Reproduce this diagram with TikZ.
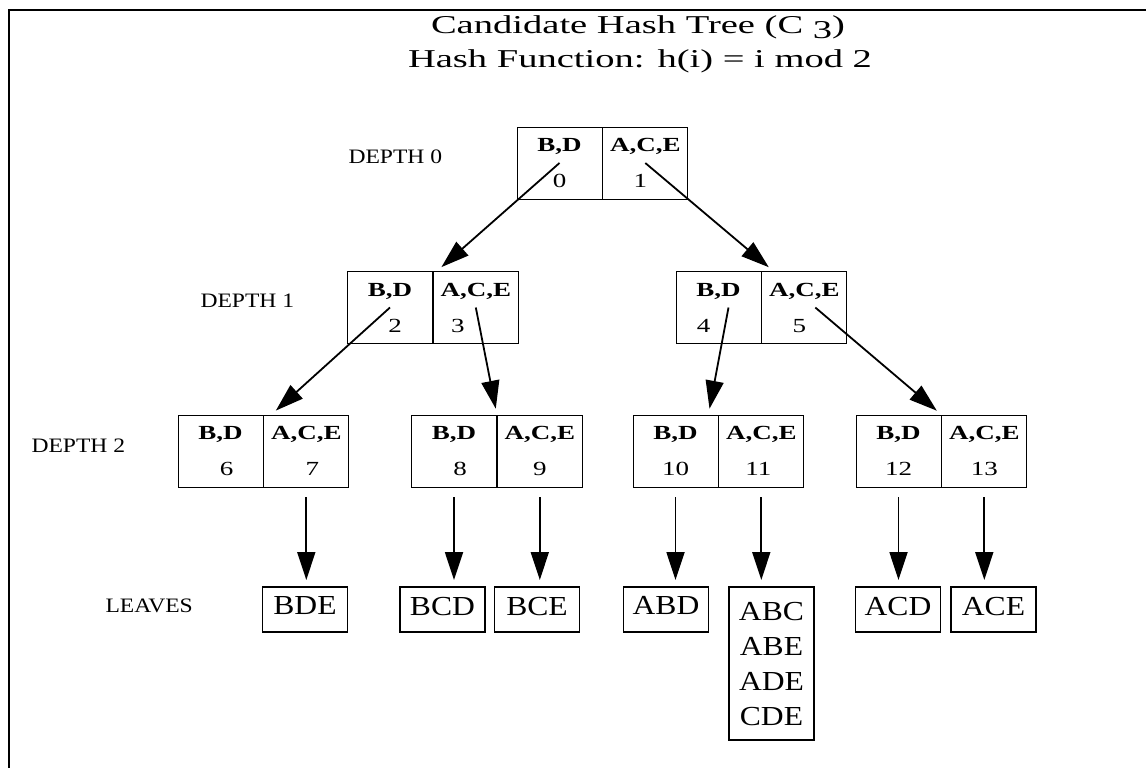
\documentclass[tikz,border=0pt]{standalone}
\usepackage{fontspec}
\setmainfont{Liberation Serif}
\newfontfamily\titlefont{Liberation Serif}[FakeStretch=1.5]
\newfontfamily\cellfont{Liberation Serif}[FakeStretch=1.35]
\newfontfamily\leaffont{Liberation Serif}[FakeStretch=1.15]
\usetikzlibrary{positioning,arrows.meta,calc}

\begin{document}
\begin{tikzpicture}[x=1pt, y=-1pt, line width=1pt,
  cell/.style={draw, line width=0.8pt, minimum width=85pt, minimum height=72pt,
    inner sep=0pt, align=center, font=\cellfont\fontsize{20}{36}\selectfont},
  leaf/.style={draw, line width=1.8pt, minimum width=85pt, minimum height=45pt,
    inner sep=0pt, anchor=north, align=center, text depth=7pt,
    font=\leaffont\fontsize{27.5}{35}\selectfont},
  lbl/.style={anchor=base west, inner sep=0pt,
    font=\leaffont\fontsize{20.5}{24}\selectfont},
  arr/.style={line width=1.8pt, shorten >=6pt, -{Triangle[length=28pt,width=18pt]}}]

\useasboundingbox (0,0) rectangle (1146,768);
\draw[line width=2pt] (9,768) -- (9,10) -- (1146,10);

% title
\node[anchor=base, inner sep=0pt, font=\titlefont\fontsize{25.7}{32}\selectfont]
  (title) at (638,34) {Candidate Hash Tree (C \raisebox{-5pt}{3})};
\node[anchor=base, inner sep=0pt, font=\titlefont\fontsize{25.7}{32}\selectfont]
  (hashfn) at (640,67) {Hash Function: h(i) = i mod 2};

% depth 0
\node[lbl] (d0) at (348,163) {DEPTH 0};
\node[cell] (b0) at (559.5,163) {\textbf{B,D}\\0};
\node[cell, right=0pt of b0] (b1) {\textbf{A,C,E}\\1\hspace*{10pt}};

% depth 1
\node[lbl] (d1) at (200,307) {DEPTH 1};
\node[cell] (b2) at (390,307.5) {\textbf{B,D}\\\hspace*{10pt}2};
\node[cell, right=0pt of b2] (b3) {\textbf{A,C,E}\\3\hspace*{36pt}};
\node[cell] (b4) at (718.5,307.5) {\textbf{B,D}\\4\hspace*{30pt}};
\node[cell, right=0pt of b4] (b5) {\textbf{A,C,E}\\5\hspace*{10pt}};

% depth 2
\node[lbl] (d2) at (31,452) {DEPTH 2};
\node[cell] (b6) at (220.5,451) {\textbf{B,D}\\\hspace*{12pt}6};
\node[cell, right=0pt of b6] (b7) {\textbf{A,C,E}\\\hspace*{12pt}7};
\node[cell] (b8) at (454,451) {\textbf{B,D}\\\hspace*{12pt}8};
\node[cell, right=0pt of b8] (b9) {\textbf{A,C,E}\\9};
\node[cell] (b10) at (675.5,451) {\textbf{B,D}\\10};
\node[cell, right=0pt of b10] (b11) {\textbf{A,C,E}\\11\hspace*{6pt}};
\node[cell] (b12) at (898.5,451) {\textbf{B,D}\\12};
\node[cell, right=0pt of b12] (b13) {\textbf{A,C,E}\\13};

% leaves
\node[lbl] (lv) at (105,612) {LEAVES};
\node[leaf] (l7) at (305,586) {BDE};
\node[leaf] (l8) at (442.5,586) {BCD};
\node[leaf] (l9) at (537,586) {BCE};
\node[leaf] (l10) at (666,586) {ABD};
\node[leaf, text depth=0pt, minimum height=153pt] (l11) at (771.5,586)
  {ABC\\ABE\\ADE\\CDE};
\node[leaf] (l12) at (898,586) {ACD};
\node[leaf] (l13) at (993.5,586) {ACE};

% hashing arrows
\draw[arr] (b0.center) -- ($(b2.north east)+(4,0)$);
\draw[arr] (b1.center) -- ($(b4.north east)+(12,0)$);
\draw[arr] (b2.center) -- ($(b7.north west)+(8,0)$);
\draw[arr] (b3.center) -- (b9.north west);
\draw[arr] ($(b4.center)+(10,0)$) -- ($(b11.north west)+(-10,0)$);
\draw[arr] ($(b5.center)+(11,0)$) -- (b13.north west);

% down to the leaves
\foreach \n in {7,...,13}
  \draw[arr, shorten <=10pt] (b\n.south) -- (b\n.south |- l\n.north);

\end{tikzpicture}
\end{document}
